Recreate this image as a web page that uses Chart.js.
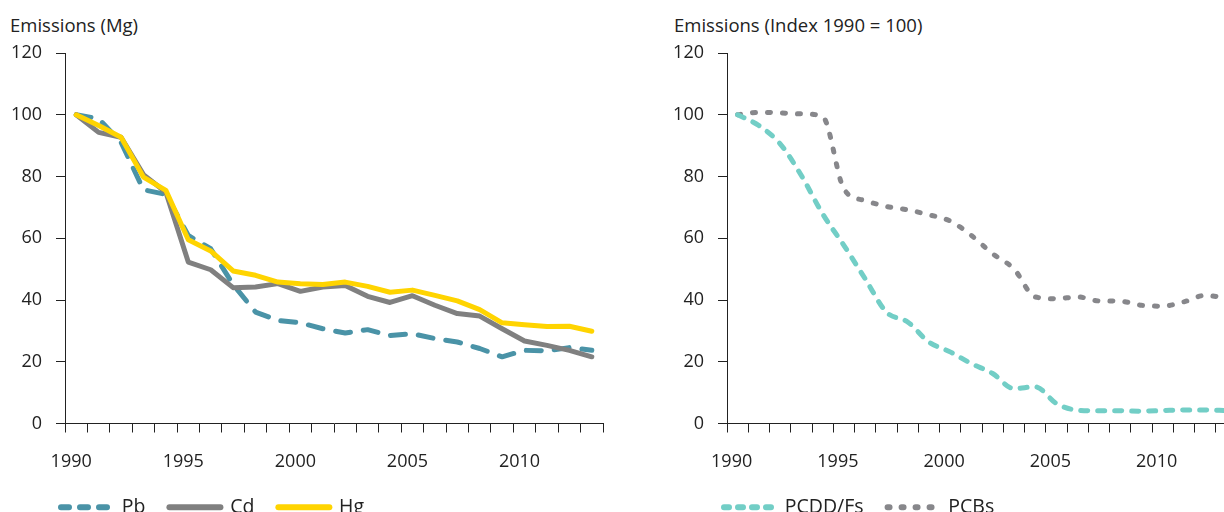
<!DOCTYPE html>
<html lang="en">
<head>
    <meta charset="UTF-8">
    <title>Emissions of heavy metals and POPs</title>
    <script src="https://cdn.jsdelivr.net/npm/chart.js"></script>
    <style>
        html, body { margin: 0; padding: 0; background: #fff; }
        body { width: 1224px; height: 512px; overflow: hidden; position: relative; font-family: "Open Sans", sans-serif; color: #222; }
        .panel-title { position: absolute; top: 16px; font-size: 18.5px; line-height: 18px; white-space: nowrap; }
        .chart-box { position: absolute; top: 0; height: 527px; }
    </style>
</head>
<body>
    <div class="panel-title" style="left: 10px;">Emissions (Mg)</div>
    <div class="panel-title" style="left: 674px;">Emissions (Index 1990 = 100)</div>
    <div class="chart-box" style="left: 0; width: 612px;"><canvas id="metalsChart"></canvas></div>
    <div class="chart-box" style="left: 612px; width: 634px;"><canvas id="popsChart"></canvas></div>

    <script>
        // years 1990-2013
        const years = ['1990', '1991', '1992', '1993', '1994', '1995', '1996', '1997', '1998', '1999', '2000', '2001',
            '2002', '2003', '2004', '2005', '2006', '2007', '2008', '2009', '2010', '2011', '2012', '2013'];
        const yTicks = [0, 20, 40, 60, 80, 100, 120];

        // left panel, Mg
        const pb = [100, 98.7, 91.1, 75.7, 74.2, 60.9, 56.6, 45.0, 36.1, 33.4, 32.6, 30.7,
            29.3, 30.4, 28.5, 29.1, 27.5, 26.4, 24.3, 21.6, 23.7, 23.5, 24.6, 23.7];
        const cd = [100, 94.3, 92.7, 80.6, 74.9, 52.3, 49.8, 44.0, 44.2, 45.3, 42.8, 44.2,
            44.7, 41.2, 39.2, 41.4, 38.3, 35.6, 34.8, 30.7, 26.7, 25.3, 23.7, 21.6];
        const hg = [100, 96.5, 92.7, 79.8, 75.5, 59.5, 55.9, 49.4, 48.0, 45.8, 45.3, 45.0,
            45.8, 44.4, 42.5, 43.2, 41.5, 39.7, 36.9, 32.6, 32.0, 31.4, 31.5, 29.9];

        // right panel, index 1990 = 100
        const pcdd = [100, 96.5, 90.6, 80.3, 67.9, 57.7, 46.9, 36.1, 32.9, 26.4, 23.2, 19.4,
            16.2, 11.3, 11.9, 6.5, 4.3, 4.1, 4.1, 4.0, 4.2, 4.4, 4.4, 4.2];
        const pcbs = [100, 100.8, 100.6, 100.3, 99.4, 76.0, 72.2, 70.3, 69.2, 67.6, 65.6, 60.9,
            55.0, 50.1, 41.0, 40.4, 41.0, 39.7, 39.6, 38.3, 38.0, 39.4, 41.5, 40.6];

        const textColor = '#222';
        const axisColor = '#222';
        const tickFont = { family: '"Open Sans", sans-serif', size: 18 };
        const legendFont = { family: '"Open Sans", sans-serif', size: 19.5 };

        // moves the legend row sideways, the built-in one always starts at the left padding
        const legendShift = {
            id: 'legendShift',
            afterLayout(chart, args, opts) {
                const lg = chart.legend;
                if (lg && opts.dx) {
                    lg.left += opts.dx;
                    lg.right += opts.dx;
                }
            }
        };

        function legendItems(chart) {
            return chart.data.datasets.map((ds, i) => ({
                text: ds.label,
                fillStyle: ds.borderColor,
                strokeStyle: ds.borderColor,
                fontColor: textColor,
                lineWidth: 6,
                lineDash: ds.legendDash || ds.borderDash || [],
                lineCap: 'round',
                pointStyle: 'line',
                hidden: false,
                datasetIndex: i
            }));
        }

        function makeOptions(padLeft, shift, labelShift) {
            return {
                responsive: true,
                maintainAspectRatio: false,
                animation: false,
                devicePixelRatio: 1,
                layout: { padding: { left: padLeft, top: 53, right: 9, bottom: 0 } },
                elements: { point: { radius: 0 } },
                scales: {
                    x: {
                        type: 'category',
                        offset: true,
                        afterFit: s => { s.height = 50; },
                        grid: { offset: true, drawOnChartArea: false, drawTicks: true, tickLength: 9, color: axisColor, lineWidth: 1 },
                        border: { color: axisColor, width: 1 },
                        ticks: {
                            autoSkip: false,
                            maxRotation: 0,
                            padding: 19,
                            labelOffset: labelShift,
                            color: textColor,
                            font: tickFont,
                            callback: function (val, i) {
                                const y = years[i];
                                return Number(y) % 5 === 0 ? y : '';
                            }
                        }
                    },
                    y: {
                        min: 0,
                        max: 120,
                        afterFit: s => { s.width = 55; },
                        afterBuildTicks: s => { s.ticks = yTicks.map(v => ({ value: v })); },
                        grid: { drawOnChartArea: false, drawTicks: true, tickLength: 9, color: axisColor, lineWidth: 1 },
                        border: { color: axisColor, width: 1 },
                        ticks: { padding: 14, color: textColor, font: tickFont }
                    }
                },
                plugins: {
                    title: { display: false },
                    tooltip: { enabled: false },
                    legendShift: { dx: shift },
                    legend: {
                        position: 'bottom',
                        align: 'start',
                        labels: {
                            usePointStyle: true,
                            pointStyle: 'line',
                            pointStyleWidth: 51,
                            padding: 24,
                            color: textColor,
                            font: legendFont,
                            generateLabels: legendItems
                        }
                    }
                }
            };
        }

        new Chart(document.getElementById('metalsChart'), {
            type: 'line',
            data: {
                labels: years,
                datasets: [
                    { label: 'Pb', data: pb, borderColor: '#4a93a7', backgroundColor: '#4a93a7', borderWidth: 5,
                      borderDash: [15, 13], legendDash: [8, 11], borderCapStyle: 'round', borderJoinStyle: 'round', tension: 0, order: 2 },
                    { label: 'Cd', data: cd, borderColor: '#808080', backgroundColor: '#808080', borderWidth: 5,
                      borderCapStyle: 'round', borderJoinStyle: 'round', tension: 0, order: 1 },
                    { label: 'Hg', data: hg, borderColor: '#ffd400', backgroundColor: '#ffd400', borderWidth: 5,
                      borderCapStyle: 'round', borderJoinStyle: 'round', tension: 0, order: 0 }
                ]
            },
            options: makeOptions(10, 27, -5),
            plugins: [legendShift]
        });

        new Chart(document.getElementById('popsChart'), {
            type: 'line',
            data: {
                labels: years,
                datasets: [
                    { label: 'PCDD/Fs', data: pcdd, borderColor: '#72cec6', backgroundColor: '#72cec6', borderWidth: 5,
                      borderDash: [7, 10], legendDash: [5, 9], borderCapStyle: 'round', cubicInterpolationMode: 'monotone' },
                    { label: 'PCBs', data: pcbs, borderColor: '#87878b', backgroundColor: '#87878b', borderWidth: 5,
                      borderDash: [3, 12], legendDash: [2, 12], borderCapStyle: 'round', cubicInterpolationMode: 'monotone' }
                ]
            },
            options: makeOptions(60, 28, -6),
            plugins: [legendShift]
        });
    </script>
</body>
</html>
